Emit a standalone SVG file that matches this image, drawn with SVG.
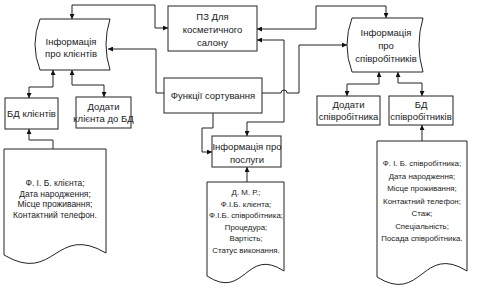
<svg xmlns="http://www.w3.org/2000/svg" width="477" height="302" viewBox="0 0 477 302">
<defs>
<marker id="ah" viewBox="0 0 10 10" refX="10" refY="5" markerWidth="5" markerHeight="5" orient="auto-start-reverse" markerUnits="userSpaceOnUse">
<path d="M0,0 L10,5 L0,10 Z" fill="#111"/>
</marker>
<style>
.s{fill:#fff;stroke:#222;stroke-width:1}
.c{fill:none;stroke:#222;stroke-width:1}
.t{font-family:"Liberation Sans",Arial,sans-serif;font-size:9.5px;fill:#222;text-anchor:middle}
.d{font-family:"Liberation Sans",Arial,sans-serif;font-size:8.5px;fill:#222;text-anchor:middle}
.e{font-family:"Liberation Sans",Arial,sans-serif;font-size:7.9px;fill:#222;text-anchor:middle}
</style>
</defs>
<rect width="477" height="302" fill="#fff"/>
<g id="connectors">
<path class="c" d="M72,19 V5 H155 V28 H168" marker-start="url(#ah)" marker-end="url(#ah)"/>
<path class="c" d="M164,93 H156 V49 H108" marker-end="url(#ah)"/>
<path class="c" d="M257,29 H316 V6 H386 V18" marker-start="url(#ah)" marker-end="url(#ah)"/>
<path class="c" d="M257,40 H284 V122 H247 V136" marker-start="url(#ah)" marker-end="url(#ah)"/>
<path class="c" d="M262,93 H281 A3,3 0 0 1 287,93 H299 V45 H347" marker-end="url(#ah)"/>
<path class="c" d="M213,113 V128 H202 V152 H212" marker-end="url(#ah)"/>
<path class="c" d="M247,182 V167" marker-end="url(#ah)"/>
<path class="c" d="M53,70 V87 H29 V98" marker-start="url(#ah)" marker-end="url(#ah)"/>
<path class="c" d="M72,70 V85 H104 V97" marker-start="url(#ah)" marker-end="url(#ah)"/>
<path class="c" d="M53,149 V140 H29 V129" marker-end="url(#ah)"/>
<path class="c" d="M379,72 V84 H347 V96" marker-start="url(#ah)" marker-end="url(#ah)"/>
<path class="c" d="M398,72 V83 H422 V96" marker-start="url(#ah)" marker-end="url(#ah)"/>
<path class="c" d="M422,141 V125" marker-end="url(#ah)"/>
</g>
<g id="pz">
<rect class="s" x="168" y="6" width="89" height="45"/>
<text class="t" x="212.5" y="20">ПЗ Для</text>
<text class="t" x="212.5" y="33">косметичного</text>
<text class="t" x="212.5" y="46">салону</text>
</g>
<g id="info-clients">
<path class="s" d="M40,19 H110 Q102,44.5 110,70 H40 Q30,44.5 40,19 Z"/>
<text class="t" x="71" y="45">Інформація</text>
<text class="t" x="71" y="57">про клієнтів</text>
</g>
<g id="sort">
<rect class="s" x="164" y="78" width="98" height="35"/>
<text class="t" x="213" y="99">Функції сортування</text>
</g>
<g id="info-staff">
<path class="s" d="M352,18 H423 Q415,45 423,72 H352 Q342,45 352,18 Z"/>
<text class="t" x="386" y="36">Інформація</text>
<text class="t" x="386" y="49">про</text>
<text class="t" x="386" y="62">співробітників</text>
</g>
<g id="db-clients">
<rect class="s" x="5" y="98" width="53" height="31"/>
<text class="t" x="31.5" y="117">БД клієнтів</text>
</g>
<g id="add-client">
<rect class="s" x="76" y="97" width="55" height="31"/>
<text class="t" x="103.5" y="110">Додати</text>
<text class="t" x="103.5" y="122">клієнта до БД</text>
</g>
<g id="doc-clients">
<path class="s" d="M4,149 H106 V253 C55,223 55,285 4,255 Z"/>
<text class="d" x="55" y="186">Ф. І. Б. клієнта;</text>
<text class="d" x="55" y="196.5">Дата народження;</text>
<text class="d" x="55" y="207">Місце проживання;</text>
<text class="d" x="55" y="217.5">Контактний телефон.</text>
</g>
<g id="services">
<rect class="s" x="212" y="136" width="69" height="31"/>
<text class="t" x="247" y="150">Інформація про</text>
<text class="t" x="247" y="163">послуги</text>
</g>
<g id="doc-services">
<path class="s" d="M207,182 H284 V271 C245.5,246 245.5,301 207,276 Z"/>
<text class="e" x="246" y="195">Д. М. Р.;</text>
<text class="e" x="246" y="206.5">Ф.І.Б. клієнта;</text>
<text class="e" x="246" y="218">Ф.І.Б. співробітника;</text>
<text class="e" x="246" y="229.5">Процедура;</text>
<text class="e" x="246" y="241">Вартість;</text>
<text class="e" x="246" y="252.5">Статус виконання.</text>
</g>
<g id="add-staff">
<rect class="s" x="317" y="96" width="63" height="29"/>
<text class="t" x="348.5" y="108">Додати</text>
<text class="t" x="348.5" y="120">співробітника</text>
</g>
<g id="db-staff">
<rect class="s" x="389" y="96" width="64" height="29"/>
<text class="t" x="421" y="108">БД</text>
<text class="t" x="421" y="120">співробітників</text>
</g>
<g id="doc-staff">
<path class="s" d="M377,141 H467 V271 C422,243 422,305 377,277 Z"/>
<text class="e" x="422" y="166">Ф. І. Б. співробітника;</text>
<text class="e" x="422" y="178.5">Дата народження;</text>
<text class="e" x="422" y="191">Місце проживання;</text>
<text class="e" x="422" y="203.5">Контактний телефон;</text>
<text class="e" x="422" y="216">Стаж;</text>
<text class="e" x="422" y="228.5">Спеціальність;</text>
<text class="e" x="422" y="241">Посада співробітника.</text>
</g>
</svg>
